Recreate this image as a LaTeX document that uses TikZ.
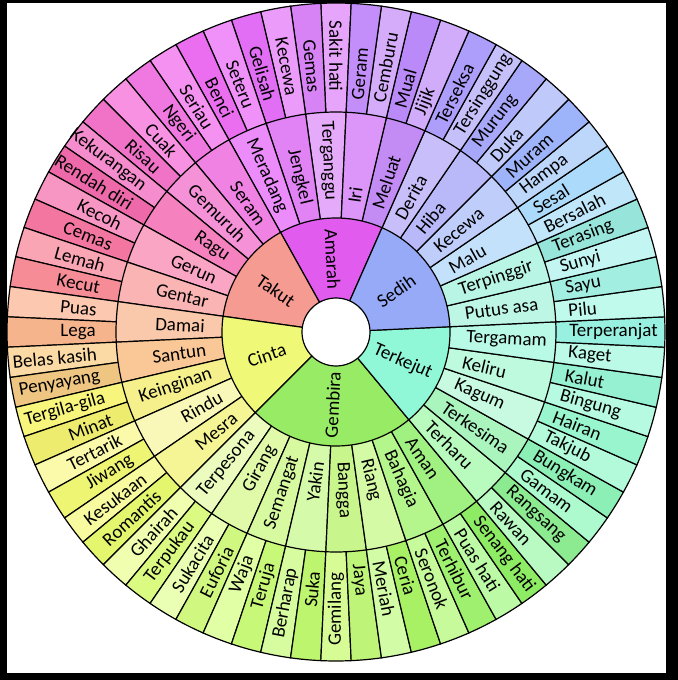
\documentclass[tikz,border=0pt]{standalone}
\usepackage{fontspec}
\setmainfont{Carlito}
\begin{document}
\def\outerlist{Sakit hati/230/165/250, Gemas/215/130/245, Kecewa/235/155/250, Gelisah/225/110/245, Seteru/240/145/250, Benci/235/110/240, Seriau/245/145/240, Ngeri/240/120/225, Cuak/248/145/225, Risau/240/115/200, Kekurangan/245/140/205, Rendah diri/238/105/170, Kecoh/248/150/195, Cemas/243/118/160, Lemah/250/165/180, Kecut/245/140/150, Puas/252/200/175, Lega/245/180/140, Belas kasih/252/218/165, Penyayang/238/198/130, Tergila-gila/248/245/125, Minat/238/236/110, Tertarik/250/250/170, Jiwang/238/245/115, Kesukaan/248/250/160, Romantis/228/245/110, Ghairah/240/255/175, Terpukau/218/250/130, Sukacita/235/255/180, Euforia/208/248/128, Waja/225/255/165, Teruja/200/248/120, Berharap/215/252/160, Suka/190/245/110, Gemilang/215/252/150, Jaya/190/245/120, Meriah/210/252/165, Ceria/168/240/100, Seronok/198/250/155, Terhibur/158/240/110, Puas hati/188/250/165, Senang hati/142/235/100, Rawan/185/250/195, Rangsang/140/235/145, Gamam/172/250/205, Bungkam/140/240/182, Takjub/178/250/218, Hairan/152/245/205, Bingung/182/250/225, Kalut/150/240/210, Kaget/188/250/232, Terperanjat/152/240/225, Pilu/192/250/236, Sayu/162/238/225, Sunyi/195/245/242, Terasing/150/228/218, Bersalah/192/230/250, Sesal/172/218/250, Hampa/188/215/250, Muram/158/180/250, Duka/192/202/250, Murung/168/168/250, Tersinggung/198/192/250, Terseksa/172/158/250, Jijik/208/172/250, Mual/185/138/248, Cemburu/212/172/250, Geram/196/142/250}
\def\midlist{Terganggu/230/170/250, Jengkel/225/130/245, Meradang/235/140/250, Seram/240/130/228, Gemuruh/245/145/215, Ragu/245/130/190, Gerun/250/165/195, Gentar/250/180/180, Damai/250/200/170, Santun/250/200/150, Keinginan/245/240/140, Rindu/250/248/185, Mesra/245/245/150, Terpesona/235/252/190, Girang/225/250/170, Semangat/215/250/160, Yakin/212/250/170, Bangga/200/245/140, Riang/212/250/165, Bahagia/180/245/140, Aman/160/240/130, Terharu/185/250/190, Terkesima/170/245/190, Kagum/200/250/225, Keliru/190/250/222, Tergamam/185/250/230, Putus asa/190/246/230, Terpinggir/185/245/228, Malu/195/225/250, Kecewa/190/205/250, Hiba/185/185/250, Derita/200/190/250, Meluat/195/140/245, Iri/220/150/250}
\def\corelist{-4/6/Amarah/225/92/238, 6/16/Takut/245/155/145, 16/26/Cinta/240/248/120, 26/42/Gembira/152/235/100, 42/52/Terkejut/145/248/215, 52/64/Sedih/150/170/248}
\begin{tikzpicture}[x=0.5pt,y=0.5pt,
  seg/.style={draw=black, line width=0.6pt},
  lab/.style={font=\fontsize{9.5}{11}\selectfont, inner sep=0pt, text=black}]
\fill[black] (-336,-348) rectangle (342,332);
\fill[white] (-329,329) rectangle (330,-341);
\useasboundingbox (-336,-348) rectangle (342,332);
\pgfmathsetmacro{\da}{360/68}
% outer ring fills
\foreach \t/\r/\g/\b [count=\k from 0] in \outerlist {
  \pgfmathsetmacro{\aa}{90-\da/2+\k*\da}
  \pgfmathsetmacro{\ab}{\aa+\da}
  \filldraw[seg, fill={rgb,255:red,\r;green,\g;blue,\b}] (0,0) -- (\aa:329) arc[start angle=\aa, end angle=\ab, radius=329] -- cycle;
}
% middle ring fills
\foreach \t/\r/\g/\b [count=\k from 0] in \midlist {
  \pgfmathsetmacro{\aa}{90-\da/2+2*\k*\da}
  \pgfmathsetmacro{\ab}{\aa+2*\da}
  \filldraw[seg, fill={rgb,255:red,\r;green,\g;blue,\b}] (0,0) -- (\aa:220) arc[start angle=\aa, end angle=\ab, radius=220] -- cycle;
}
% core fills
\foreach \s/\e/\t/\r/\g/\b [count=\k from 0] in \corelist {
  \pgfmathsetmacro{\aa}{90-\da/2+\s*\da}
  \pgfmathsetmacro{\ab}{90-\da/2+\e*\da}
  \filldraw[seg, fill={rgb,255:red,\r;green,\g;blue,\b}] (0,0) -- (\aa:114) arc[start angle=\aa, end angle=\ab, radius=114] -- cycle;
}
\filldraw[seg, fill=white] (0,0) circle[radius=34];
% outer labels
\foreach \t/\r/\g/\b [count=\k from 0] in \outerlist {
  \pgfmathsetmacro{\c}{mod(90+\k*\da,360)}
  \pgfmathtruncatemacro{\isleft}{and(\c>=90,\c<270)}
  \ifnum\isleft=1
    \node[lab, anchor=east, rotate=\c+180] (o\k) at (\c:240) {\t};
  \else
    \node[lab, anchor=west, rotate=\c] (o\k) at (\c:233) {\t};
  \fi
}
% middle labels
\foreach \t/\r/\g/\b [count=\k from 0] in \midlist {
  \pgfmathsetmacro{\c}{mod(90+(2*\k+0.5)*\da,360)}
  \pgfmathtruncatemacro{\isleft}{and(\c>=90,\c<270)}
  \ifnum\isleft=1
    \node[lab, anchor=east, rotate=\c+180] (m\k) at (\c:131) {\t};
  \else
    \node[lab, anchor=west, rotate=\c] (m\k) at (\c:130) {\t};
  \fi
}
% core labels
\foreach \s/\e/\t/\r/\g/\b [count=\k from 0] in \corelist {
  \pgfmathsetmacro{\c}{mod(90+((\s+\e)/2-0.5)*\da+360,360)}
  \pgfmathtruncatemacro{\isleft}{and(\c>=90,\c<270)}
  \ifnum\isleft=1
    \node[lab, anchor=center, rotate=\c+180] (c\k) at (\c:73) {\t};
  \else
    \node[lab, anchor=center, rotate=\c] (c\k) at (\c:73) {\t};
  \fi
}
\end{tikzpicture}
\end{document}
